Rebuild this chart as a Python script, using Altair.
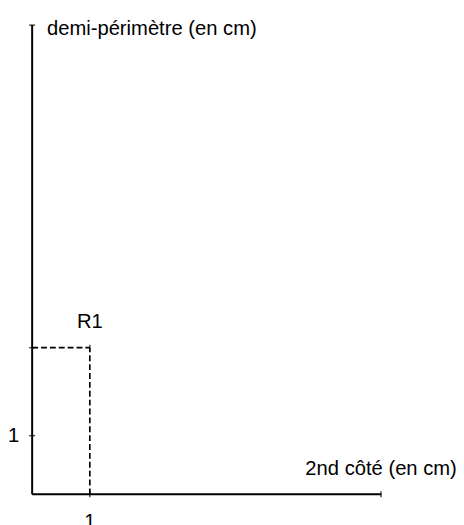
import altair as alt
import pandas as pd

# ---- data ----
point_names = ["R1"]
point_x = [1]
point_y = [2.5]
x_ticks = [1]
y_ticks = [1]
x_axis_end = 6.05
y_axis_end = 8
x_title = "2nd côté (en cm)"
y_title = "demi-périmètre (en cm)"

FONT = "Liberation Sans"
FS = 20.5

xs = alt.Scale(domain=[0, x_axis_end], nice=False, zero=False)
ys = alt.Scale(domain=[0, y_axis_end], nice=False, zero=False)

def X(f):
    return alt.X(f, type="quantitative", scale=xs, axis=None)

def Y(f):
    return alt.Y(f, type="quantitative", scale=ys, axis=None)

axes_df = pd.DataFrame({"x": [0, 0], "y": [0, 0], "x2": [x_axis_end, 0], "y2": [0, y_axis_end]})
axes = alt.Chart(axes_df).mark_rule(color="black", strokeWidth=2).encode(
    x=X("x"), y=Y("y"), x2="x2", y2="y2")

# dashed guide lines from the point to both axes
guide_rows = []
for px, py in zip(point_x, point_y):
    guide_rows.append({"x": 0, "y": py, "x2": px, "y2": py})
    guide_rows.append({"x": px, "y": 0, "x2": px, "y2": py})
guides = alt.Chart(pd.DataFrame(guide_rows)).mark_rule(
    color="black", strokeWidth=1.7, strokeDash=[6, 3]).encode(
    x=X("x"), y=Y("y"), x2="x2", y2="y2")

vt_df = pd.DataFrame({"x": x_ticks + [x_axis_end] + point_x,
                      "y": [0] * len(x_ticks) + [0] + point_y})
ht_df = pd.DataFrame({"x": [0] * len(y_ticks) + [0] + [0] * len(point_y),
                      "y": y_ticks + [y_axis_end] + point_y})
vticks = alt.Chart(vt_df).mark_tick(orient="vertical", size=6, thickness=1.5, color="black").encode(
    x=X("x"), y=Y("y"))
hticks = alt.Chart(ht_df).mark_tick(orient="horizontal", size=6, thickness=1.5, color="black").encode(
    x=X("x"), y=Y("y"))

txt = dict(font=FONT, fontSize=FS, color="black")

xlab = alt.Chart(pd.DataFrame({"x": x_ticks, "y": [0] * len(x_ticks), "t": [str(v) for v in x_ticks]})).mark_text(
    align="center", baseline="alphabetic", dy=34, **txt).encode(x=X("x"), y=Y("y"), text="t:N")
ylab = alt.Chart(pd.DataFrame({"x": [0] * len(y_ticks), "y": y_ticks, "t": [str(v) for v in y_ticks]})).mark_text(
    align="right", baseline="middle", dx=-13, **txt).encode(x=X("x"), y=Y("y"), text="t:N")

pts = alt.Chart(pd.DataFrame({"x": point_x, "y": point_y, "t": point_names})).mark_text(
    align="center", baseline="alphabetic", dy=-20, **txt).encode(x=X("x"), y=Y("y"), text="t:N")

xt = alt.Chart(pd.DataFrame({"x": [x_axis_end], "y": [0], "t": [x_title]})).mark_text(
    align="center", baseline="alphabetic", dy=-20, **txt).encode(x=X("x"), y=Y("y"), text="t:N")
yt = alt.Chart(pd.DataFrame({"x": [0], "y": [y_axis_end], "t": [y_title]})).mark_text(
    align="left", baseline="alphabetic", dx=15, dy=10, **txt).encode(x=X("x"), y=Y("y"), text="t:N")

chart = alt.layer(axes, guides, vticks, hticks, xlab, ylab, pts, xt, yt).properties(
    width=354, height=476,
    autosize=alt.AutoSizeParams(type="none"),
    padding={"left": 24.5, "top": 13.5, "right": 76, "bottom": 43},
).configure_view(stroke=None)

chart.save("out.html", embed_options={"renderer": "svg", "actions": False})
